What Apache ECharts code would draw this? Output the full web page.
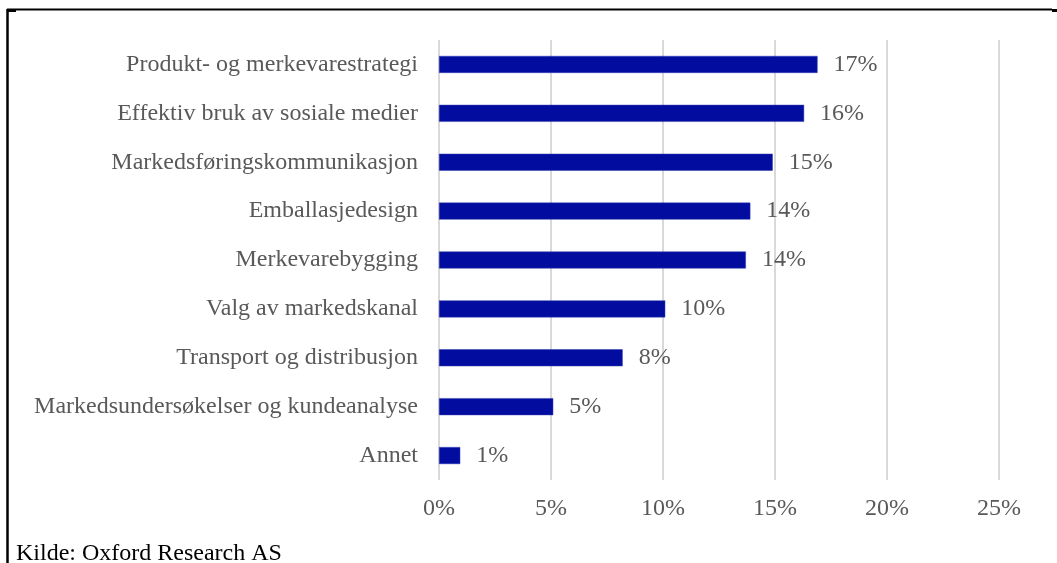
<!DOCTYPE html>
<html>
<head>
<meta charset="utf-8">
<script src="https://cdn.jsdelivr.net/npm/echarts@6/dist/echarts.min.js"></script>
<style>
  html, body { margin: 0; padding: 0; background: #fff; }
  #main { width: 1057px; height: 563px; }
</style>
</head>
<body>
<div id="main"></div>
<script>
// categories, top to bottom
var categories = [
    "Produkt- og merkevarestrategi",
    "Effektiv bruk av sosiale medier",
    "Markedsføringskommunikasjon",
    "Emballasjedesign",
    "Merkevarebygging",
    "Valg av markedskanal",
    "Transport og distribusjon",
    "Markedsundersøkelser og kundeanalyse",
    "Annet"
];
// share in percent (bar lengths)
var values = [16.9, 16.3, 14.9, 13.9, 13.7, 10.1, 8.2, 5.1, 0.95];
var axisTicks = [0, 5, 10, 15, 20, 25];
var source = "Kilde: Oxford Research AS";

var chartDom = document.getElementById("main");
var myChart = echarts.init(chartDom);
var serif = '"Liberation Serif", "Times New Roman", serif';

var option = {
    backgroundColor: "#fff",
    animation: false,
    grid: { left: 439, right: 58, top: 40, bottom: 83 },
    xAxis: {
        type: "value",
        min: axisTicks[0],
        max: axisTicks[axisTicks.length - 1],
        interval: 5,
        axisLine: { show: false },
        axisTick: { show: false },
        axisLabel: {
            formatter: "{value}%",
            color: "#595959",
            fontFamily: serif,
            fontSize: 24,
            margin: 17
        },
        splitLine: { lineStyle: { color: "#d9d9d9", width: 2 } }
    },
    yAxis: {
        type: "category",
        data: categories,
        inverse: true,
        axisLine: { show: false },
        axisTick: { show: false },
        axisLabel: {
            color: "#595959",
            fontFamily: serif,
            fontSize: 24,
            margin: 21
        }
    },
    series: [
        {
            type: "bar",
            data: values,
            barWidth: 17,
            itemStyle: { color: "#020c9f", borderColor: "#3540b5", borderWidth: 0.5 },
            label: {
                show: true,
                position: "right",
                distance: 16,
                color: "#595959",
                fontFamily: serif,
                fontSize: 24,
                formatter: function (p) { return Math.round(p.value) + "%"; }
            }
        }
    ],
    graphic: [
        // frame: top and left rules
        { type: "line", shape: { x1: 7, y1: 9.5, x2: 1052, y2: 9.5 }, style: { stroke: "#000", lineWidth: 2 } },
        { type: "line", shape: { x1: 7.5, y1: 9, x2: 7.5, y2: 563 }, style: { stroke: "#000", lineWidth: 2.5 } },
        { type: "rect", shape: { x: 7, y: 9, width: 9, height: 3 }, style: { fill: "#000" } },
        { type: "rect", shape: { x: 1052, y: 9, width: 5, height: 3 }, style: { fill: "#000" } },
        {
            type: "text",
            left: 16,
            top: 542,
            style: { text: source, fill: "#000", font: "24px " + serif }
        }
    ]
};

option && myChart.setOption(option);
window.addEventListener("resize", function () {
    myChart.resize();
});
</script>
</body>
</html>
